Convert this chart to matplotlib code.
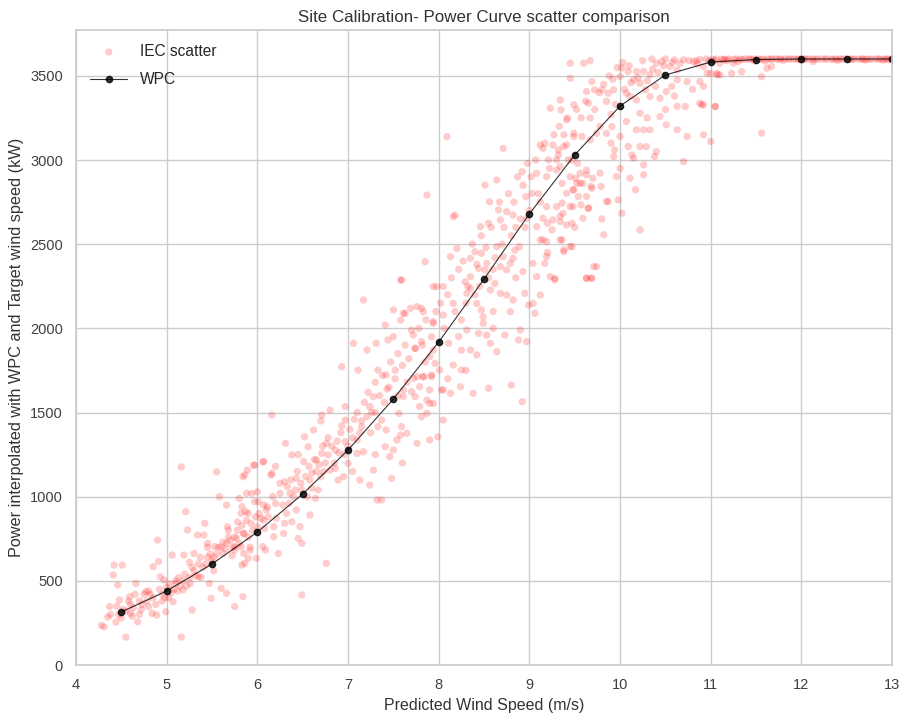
import matplotlib
matplotlib.use("Agg")
import matplotlib.pyplot as plt
import seaborn as sns

sns.set_theme(style="whitegrid")
plt.rcParams['font.family'] = ['Liberation Sans', 'DejaVu Sans']

# ---------------- data ----------------
wpc_ws = [4.5, 5.0, 5.5, 6.0, 6.5, 7.0, 7.5, 8.0, 8.5, 9.0, 9.5, 10.0, 10.5, 11.0, 11.5, 12.0, 12.5, 13.0]
wpc_pw = [315, 440, 600, 790, 1016, 1277, 1580, 1919, 2293, 2680, 3030, 3321, 3505, 3582, 3597, 3600, 3600, 3600]

iec_low = [(4.31, 226), (4.28, 235), (4.35, 285), (4.44, 255), (4.55, 166), (4.42, 594), (4.51, 594),
           (4.41, 535), (4.46, 475), (4.48, 386), (4.37, 347), (4.59, 406), (4.60, 307), (4.68, 257),
           (4.66, 485), (4.77, 436), (4.80, 347), (4.84, 307), (4.89, 297), (4.85, 584), (4.91, 614),
           (4.90, 742), (4.93, 525), (4.97, 505), (5.07, 376), (4.99, 317), (5.10, 485), (5.06, 653),
           (5.16, 1177), (5.16, 166), (5.21, 911), (5.23, 802), (5.19, 653), (5.18, 446), (5.26, 485),
           (5.28, 327), (5.30, 663), (5.34, 772), (5.35, 525), (5.42, 842), (5.41, 772), (5.45, 723),
           (5.47, 485), (5.49, 396), (5.53, 703), (5.55, 1148), (5.58, 1000), (5.66, 950), (5.67, 822),
           (5.62, 663), (5.66, 723), (5.60, 455), (5.66, 426), (5.75, 347), (5.80, 990), (5.82, 901),
           (5.84, 1118), (5.89, 1158), (5.87, 911), (5.75, 683), (5.82, 703), (5.86, 604), (5.84, 406),
           (5.97, 1187), (6.06, 1207), (6.00, 1029), (6.01, 970), (6.04, 871), (6.11, 940), (6.15, 1128),
           (6.06, 703), (5.99, 634), (5.90, 634), (6.08, 812),
           (4.60, 360), (4.70, 380), (4.75, 420), (4.80, 440), (4.85, 400), (4.95, 420), (5.00, 460),
           (5.05, 430), (5.10, 500), (5.15, 470), (5.20, 540), (5.25, 520), (5.30, 560), (5.35, 600),
           (5.40, 580), (5.45, 640), (5.50, 620), (5.55, 660), (5.60, 700), (5.65, 690), (5.70, 740),
           (5.75, 760), (5.80, 720), (5.85, 780), (5.90, 760), (5.95, 800), (6.00, 820), (4.52, 330),
           (4.62, 290), (4.72, 330), (4.95, 380), (5.02, 400), (5.12, 440), (5.38, 520), (5.52, 560),
           (5.72, 650), (5.92, 700), (4.47, 300), (4.65, 420), (5.25, 610), (5.45, 700), (5.68, 800),
           (5.78, 850)]

iec_mid = [(5.77, 752), (5.75, 703), (5.85, 782), (5.85, 663), (5.83, 594), (5.92, 683), (5.90, 901),
           (5.83, 941), (5.94, 1020), (5.97, 970), (5.88, 1020), (5.96, 1188), (6.07, 1208), (5.86, 1129),
           (6.16, 1485), (6.16, 1139), (6.10, 921), (6.07, 861), (6.09, 683), (6.23, 663), (6.18, 762),
           (6.29, 782), (6.30, 842), (6.21, 871), (6.18, 822), (6.38, 851), (6.32, 901), (6.43, 921),
           (6.47, 822), (6.49, 723), (6.45, 752), (6.58, 891), (6.49, 1040), (6.58, 1099), (6.67, 1040),
           (6.64, 990), (6.36, 1020), (6.30, 1089), (6.25, 1079), (6.42, 1040), (6.43, 1109), (6.31, 1317),
           (6.38, 1248), (6.51, 1208), (6.52, 1356), (6.62, 1396), (6.56, 1297), (6.65, 1218), (6.71, 1257),
           (6.73, 1149), (6.76, 1317), (6.78, 1248), (6.80, 1158), (6.86, 1277), (6.86, 1168), (6.71, 1485),
           (6.80, 1515), (6.93, 1772), (6.97, 1535), (6.97, 1455), (6.97, 1327), (6.95, 1119), (7.00, 1198),
           (6.89, 1099), (6.76, 604), (6.49, 416), (7.06, 1911), (7.17, 2168), (7.11, 1752), (7.21, 1871),
           (7.10, 1337), (7.15, 1416), (7.17, 1267), (7.10, 1257), (7.13, 1099), (7.24, 1069), (7.28, 1158),
           (7.32, 980), (7.37, 980), (7.21, 1475), (7.24, 1535), (7.28, 1594), (7.33, 1416), (7.37, 1455),
           (7.42, 1396), (7.41, 1297), (7.46, 1238), (7.50, 1277), (7.54, 1337), (7.48, 1109), (7.33, 1752),
           (7.42, 1723), (7.52, 1752), (7.44, 1931), (7.50, 1951), (7.31, 1911), (7.41, 2020), (7.50, 2109),
           (7.61, 2089), (7.58, 2049), (7.69, 2119), (7.76, 2129), (7.83, 2099), (7.56, 1495), (7.59, 1416),
           (7.65, 1376), (7.58, 1366), (7.61, 1634), (7.70, 1624), (7.76, 1317), (7.81, 1475), (7.87, 1495),
           (7.90, 1554), (7.90, 1337), (7.99, 1356), (7.76, 1713), (7.83, 1713), (7.92, 1713), (7.79, 1653),
           (7.74, 1881), (7.81, 1921), (7.90, 1832), (7.96, 1792), (8.03, 1634), (8.05, 1455), (7.94, 2030),
           (7.98, 2248), (7.58, 2287),
           (6.55, 1000), (6.60, 1050), (6.70, 1120), (6.85, 1200), (6.90, 1260), (7.00, 1300), (7.05, 1350),
           (7.15, 1450), (7.30, 1500), (7.40, 1560), (7.55, 1600), (7.65, 1680), (7.85, 1800), (6.35, 960),
           (6.65, 1150), (6.92, 1380), (7.25, 1380), (7.45, 1650)]

iec_upper = [(8.09, 3139), (7.87, 2792), (7.85, 2396), (7.59, 2287), (8.16, 2663), (8.18, 2673), (8.46, 2604),
             (8.55, 2624), (8.51, 2851), (8.64, 2881), (8.56, 2752), (8.71, 3069), (8.66, 2703), (8.75, 2693),
             (8.82, 2673), (8.68, 2644), (8.13, 2426), (8.20, 2475), (8.35, 2416), (8.40, 2455), (8.47, 2446),
             (8.53, 2386), (8.51, 2347), (8.44, 2356), (8.35, 2307), (8.29, 2277), (8.35, 2238), (8.31, 2208),
             (8.42, 2148), (8.47, 2109), (8.49, 2069), (8.64, 2485), (8.71, 2426), (8.68, 2366), (8.75, 2347),
             (8.79, 2386), (8.84, 2465), (8.89, 2485), (8.93, 2337), (8.82, 2416), (8.62, 2267), (8.57, 2228),
             (8.68, 2208), (8.75, 2198), (8.82, 2168), (8.79, 2099), (8.95, 2208), (8.99, 2139), (9.04, 2148),
             (9.06, 2089), (8.90, 1990), (8.97, 1921), (8.80, 1663), (8.92, 1564), (8.55, 1644), (8.38, 1614),
             (7.94, 2248), (8.05, 2248), (8.16, 2148), (8.05, 2079), (7.81, 2119), (7.63, 2089), (7.70, 1990),
             (7.94, 2040), (7.74, 1881), (7.94, 1871), (8.11, 1911), (8.22, 1951), (8.25, 1871), (8.31, 1990),
             (8.44, 1970), (8.53, 1960), (8.57, 1911), (8.64, 1861), (8.42, 1842), (8.35, 1871), (8.49, 2030),
             (8.60, 2000), (8.73, 1960), (8.88, 1931), (8.16, 1782), (8.25, 1752), (8.01, 1752), (7.83, 1713),
             (7.72, 1703), (7.92, 1723), (7.90, 1634), (8.05, 1634), (8.13, 1614), (8.24, 1653), (7.74, 1594),
             (7.87, 1574), (7.61, 1594), (7.79, 1535), (7.94, 1554),
             (9.15, 3069), (9.12, 3089), (9.26, 3089), (9.41, 3089), (9.49, 3139), (9.32, 3030), (9.08, 2921),
             (9.19, 2901), (9.30, 2940), (9.36, 2861), (9.45, 2901), (9.56, 2921), (9.52, 2861), (9.59, 2861),
             (9.63, 2940), (9.69, 2832), (9.41, 2802), (9.48, 2822), (9.19, 2723), (9.30, 2723), (9.37, 2683),
             (9.48, 2723), (9.57, 2733), (9.65, 2713), (9.15, 2653), (9.26, 2644), (9.34, 2634), (9.41, 2614),
             (9.08, 2604), (8.97, 2653), (8.96, 2782), (8.92, 2931), (9.03, 2802), (9.12, 2525), (9.19, 2515),
             (9.36, 2525), (9.47, 2485), (9.38, 2455), (9.19, 2426), (9.04, 2386), (9.08, 2307), (9.17, 2386),
             (9.23, 2307), (9.12, 2198), (9.28, 2297), (9.63, 2297), (9.69, 2297), (9.74, 2366),
             (8.30, 2150), (8.45, 2250), (8.60, 2350), (8.70, 2500), (8.85, 2600), (9.00, 2700), (9.10, 2800),
             (8.25, 2050), (8.40, 2200), (8.55, 2300), (8.80, 2550), (8.95, 2600)]

iec_top = [(9.45, 3575), (9.60, 3575), (9.67, 3590), (9.45, 3486), (9.69, 3466), (9.80, 3417), (9.63, 3407),
           (9.72, 3417), (9.34, 3357), (9.23, 3308), (9.35, 3298), (9.49, 3328), (9.65, 3338), (9.85, 3348),
           (9.87, 3397), (9.93, 3417), (10.00, 3496), (10.02, 3546), (10.09, 3526), (10.18, 3526),
           (10.26, 3526), (10.15, 3476), (10.22, 3456), (10.33, 3506), (10.40, 3575), (10.46, 3585),
           (10.55, 3555), (10.63, 3536), (10.70, 3595), (10.81, 3585), (10.92, 3555), (11.10, 3575),
           (11.25, 3575), (11.07, 3506), (10.96, 3516), (10.88, 3466), (10.74, 3466), (10.63, 3476),
           (10.57, 3437), (10.51, 3407), (10.44, 3367), (10.39, 3437), (10.28, 3417), (10.18, 3357),
           (10.11, 3377), (10.07, 3397), (10.33, 3377), (10.44, 3258), (10.51, 3209), (10.63, 3179),
           (10.74, 3140), (10.63, 3318), (10.72, 3318), (10.88, 3338), (10.92, 3328), (11.05, 3318),
           (10.92, 3150), (11.00, 3110), (10.70, 2991), (10.22, 3278), (10.18, 3179), (10.26, 3179),
           (10.33, 3179), (10.22, 3080), (10.29, 3080), (10.38, 3021), (10.40, 3050), (10.09, 3080),
           (10.15, 3011), (10.11, 2892), (10.13, 3030), (10.26, 2971), (10.26, 2912), (10.17, 2823),
           (9.98, 2763), (10.02, 2684), (9.87, 2753), (9.82, 2556), (10.22, 2585), (10.07, 3229),
           (9.91, 3199), (9.85, 3159), (9.78, 3199), (9.74, 3159), (9.67, 3120), (9.58, 3140), (9.49, 3159),
           (9.41, 3239), (9.38, 3080), (9.32, 3060), (9.21, 3001), (9.30, 3001), (9.34, 2961), (9.43, 3001),
           (9.53, 2981), (9.63, 2912), (9.70, 2892), (9.78, 2922), (9.56, 2862), (9.51, 2892), (9.49, 2823),
           (9.68, 2843), (9.79, 2843), (9.85, 2753), (9.96, 2902), (9.93, 3021), (9.94, 3060), (9.90, 3100),
           (10.00, 3140), (9.63, 2783), (9.54, 2783), (9.34, 2665), (9.36, 2744), (9.45, 2724), (9.20, 2625),
           (9.25, 2585), (9.47, 2625), (9.65, 2714), (9.59, 2654), (9.15, 2526), (9.34, 2526), (9.38, 2467),
           (9.45, 2486), (9.71, 2367), (9.63, 2298), (9.68, 2298), (9.28, 2288),
           (10.05, 3420), (10.12, 3460), (10.20, 3490), (10.30, 3470), (10.36, 3540), (10.42, 3520),
           (10.48, 3560), (10.58, 3580), (10.66, 3575), (10.76, 3590), (9.95, 3330), (9.90, 3270)]

iec_rated = [(11.00, 3515), (11.07, 3515), (11.10, 3505), (11.23, 3515), (11.34, 3525), (11.56, 3495),
             (11.62, 3545), (11.67, 3555), (10.92, 3437), (11.05, 3318), (10.90, 3328), (11.56, 3160),
             (12.13, 3585), (10.84, 3590), (10.88, 3598), (10.95, 3600), (11.02, 3598), (11.06, 3600),
             (11.12, 3600), (11.16, 3598), (11.20, 3600), (11.28, 3600), (11.32, 3600), (11.38, 3600),
             (11.42, 3600), (11.47, 3600), (11.52, 3600), (11.58, 3600), (11.63, 3600), (11.68, 3600),
             (11.72, 3600), (11.77, 3600), (11.82, 3600), (11.86, 3600), (11.92, 3600), (11.97, 3600),
             (12.03, 3600), (12.08, 3600), (12.12, 3600), (12.18, 3600), (12.22, 3600), (12.28, 3600),
             (12.33, 3600), (12.38, 3600), (12.42, 3600), (12.48, 3600), (12.54, 3600), (12.58, 3600),
             (12.63, 3600), (12.68, 3600), (12.72, 3600), (12.78, 3600), (12.82, 3600), (12.87, 3600),
             (12.92, 3600), (12.96, 3600), (12.99, 3600), (11.14, 3596), (11.25, 3598), (11.35, 3597),
             (11.44, 3600), (11.55, 3598), (11.66, 3600), (11.75, 3599), (11.88, 3600), (11.95, 3598),
             (12.05, 3600), (12.15, 3599), (12.26, 3600), (12.35, 3598), (12.45, 3600), (12.56, 3599),
             (12.66, 3600), (12.75, 3598), (12.85, 3600), (12.94, 3599), (11.04, 3590), (11.18, 3590),
             (11.30, 3585), (11.48, 3590), (11.60, 3588), (11.80, 3592), (12.00, 3594), (12.40, 3592),
             (12.70, 3594), (12.90, 3593)]

iec_dense = [(4.38, 300), (4.45, 350), (4.50, 280), (4.55, 320), (4.58, 380), (4.63, 340), (4.70, 300),
             (4.73, 360), (4.78, 380), (4.82, 420), (4.88, 360), (4.92, 450), (4.98, 400), (5.03, 480),
             (5.08, 450), (5.13, 520), (5.18, 500), (5.22, 470), (5.28, 580), (5.32, 530), (5.37, 640),
             (5.43, 600), (5.48, 660), (5.52, 640), (5.57, 700), (5.62, 730), (5.68, 760), (5.73, 700),
             (5.78, 800), (5.83, 830), (5.88, 860), (5.93, 840), (5.98, 880), (6.02, 900), (6.07, 950),
             (6.12, 880), (6.17, 1000), (6.20, 960), (6.25, 1020), (6.28, 950), (6.33, 1060), (6.37, 1100),
             (6.40, 1000), (6.44, 1150), (6.48, 1080), (6.53, 1120), (6.57, 1180), (6.60, 1140), (6.63, 1220),
             (6.68, 1190), (6.72, 1300), (6.75, 1200), (6.78, 1350), (6.82, 1300), (6.88, 1330), (6.93, 1420),
             (6.96, 1250), (7.02, 1400), (7.07, 1460), (7.10, 1500), (7.13, 1380), (7.18, 1560), (7.22, 1620),
             (7.26, 1500), (7.30, 1680), (7.35, 1600), (7.38, 1720), (7.43, 1640), (7.47, 1800), (7.52, 1700),
             (7.55, 1850), (7.60, 1780), (7.63, 1900), (7.67, 1820), (7.72, 1960), (7.78, 2000), (7.82, 1900),
             (7.86, 2050), (7.92, 1950), (7.97, 2100), (8.02, 2150), (8.06, 2000), (8.10, 2200), (8.14, 2300),
             (8.18, 2100), (8.22, 2350), (8.27, 2400), (8.32, 2250), (8.37, 2500), (8.42, 2380), (8.47, 2550),
             (8.52, 2480), (8.58, 2600), (8.62, 2420), (8.67, 2750), (8.72, 2600), (8.77, 2800), (8.83, 2750),
             (8.87, 2900), (8.90, 2650), (8.93, 2850), (8.98, 2980), (9.02, 2900), (9.07, 3000), (9.12, 2750),
             (9.17, 3100), (9.22, 2950), (9.27, 3150), (9.33, 3200), (9.38, 3150), (9.42, 3250), (9.47, 3000),
             (9.52, 3300), (9.57, 3250), (9.62, 3350), (9.67, 3250), (9.72, 3300), (9.77, 3400), (9.82, 3450),
             (9.88, 3500), (9.92, 3480), (9.97, 3550), (10.03, 3580), (10.10, 3560), (10.25, 3590),
             (10.35, 3600), (10.50, 3600), (10.60, 3595), (10.85, 3570), (10.98, 3590),
             (6.20, 1180), (6.45, 1250), (6.70, 1450), (7.05, 1150), (7.30, 1250), (7.60, 1200), (8.10, 1700),
             (8.30, 1750), (8.60, 2100), (8.85, 2300), (9.20, 2450), (9.50, 2600), (9.80, 2650), (10.00, 2950),
             (10.30, 3250), (10.50, 3300), (10.60, 3380), (10.80, 3420)]

iec_points = iec_low + iec_mid + iec_upper + iec_top + iec_rated + iec_dense
iec_ws = [p[0] for p in iec_points]
iec_pw = [p[1] for p in iec_points]

# ---------------- plot ----------------
fig = plt.figure(figsize=(9.02, 7.15), dpi=100)
ax = fig.add_axes([0.0843, 0.0699, 0.9047, 0.888])

ax.scatter(iec_ws, iec_pw, s=28, color='red', alpha=0.2, edgecolors='none', label='IEC scatter')
ax.plot(wpc_ws, wpc_pw, color='black', lw=0.8, alpha=0.8, marker='o', ms=4.5,
        markerfacecolor='black', markeredgecolor='black', label='WPC')

ax.set_xlim(4, 13)
ax.set_ylim(bottom=0)
ax.set_xticks(range(4, 14))
ax.set_yticks(range(0, 4000, 500))
ax.tick_params(labelsize=10.5, colors='0.25')

ax.set_xlabel('Predicted Wind Speed (m/s)', fontsize=11.5, color='0.2')
ax.set_ylabel('Power interpolated with WPC and Target wind speed (kW)', fontsize=11.7, color='0.2')
ax.set_title('Site Calibration- Power Curve scatter comparison', fontsize=12.2, color='0.2')

ax.legend(loc='upper left', frameon=False, fontsize=11.2, labelspacing=0.85, handlelength=2.4)

fig.savefig('out.png', dpi=100)
